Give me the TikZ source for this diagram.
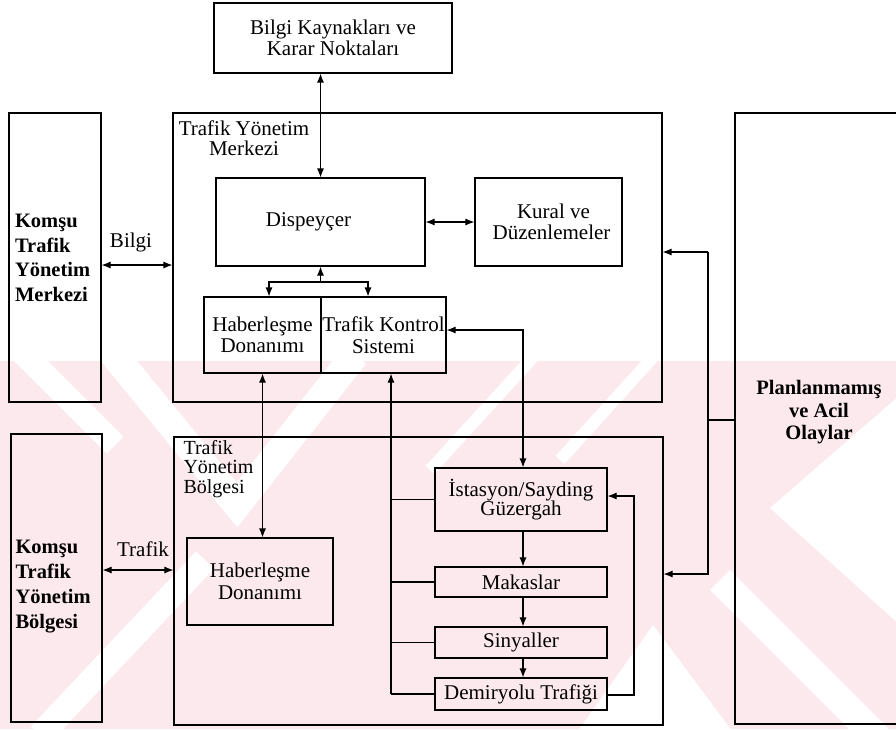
\documentclass[tikz,border=0pt]{standalone}
\usepackage{fontspec}
\setmainfont{Liberation Serif}
\usetikzlibrary{arrows.meta,calc}
\definecolor{wmpink}{RGB}{252,233,238}
\begin{document}
\begin{tikzpicture}[x=1pt,y=1pt,
  line width=1.1pt,
  txt/.style={font=\fontsize{21}{21.5}\selectfont},
  box/.style={draw, inner sep=0pt, align=center, txt},
  lbl/.style={inner sep=0pt, align=center, txt},
  tip/.style={-{Latex[length=9pt,width=7pt]}},
  dbl/.style={{Latex[length=9pt,width=7pt]}-{Latex[length=9pt,width=7pt]}}]
\useasboundingbox (0,0) rectangle (896,-729);

% faint background emblem in the lower half
\begin{scope}
  \clip (0,-361) rectangle (896,-729);
  \fill[wmpink] (0,-361) rectangle (896,-729);
  \draw[white, line width=28pt] (110,-350) -- (237,-505) -- (355,-355);
  \draw[white, line width=24pt] (15,-345) -- (115,-445);
  \draw[white, line width=25pt] (40,-735) -- (205,-560);
  \draw[white, line width=12pt] (430,-470) -- (535,-355);
  \draw[white, line width=12pt] (560,-460) -- (655,-355);
  \fill[white] (653,-625) -- (735,-735) -- (575,-735) -- cycle;
  \fill[white] (770,-508) -- (900,-395) -- (900,-625) -- cycle;
  \draw[white, line width=28pt] (720,-580) -- (880,-740);
\end{scope}

% outer containers
\node[draw, minimum width=489pt, minimum height=289pt, inner sep=0pt] (tym) at (417.5,-257.5) {};
\node[lbl] (tymT) at (244,-138) {Trafik Yönetim\\[-1.5pt]Merkezi};
\node[draw, minimum width=489pt, minimum height=288pt, inner sep=0pt] (tyb) at (418.5,-581) {};
\node[lbl, align=left, font=\fontsize{20}{19.5}\selectfont, anchor=west] (tybT) at (183,-469) {Trafik\\Yönetim\\Bölgesi};

% neighbouring centres and regions
\node[draw, minimum width=92pt, minimum height=289pt, inner sep=0pt] (komsuM) at (55,-257.5) {};
\node[lbl, align=left, anchor=west, font=\bfseries\fontsize{20.5}{24.7}\selectfont] (komsuMT) at (14.5,-258) {Komşu\\Trafik\\Yönetim\\Merkezi};
\node[draw, minimum width=91pt, minimum height=288pt, inner sep=0pt] (komsuB) at (56.5,-578) {};
\node[lbl, align=left, anchor=west, font=\bfseries\fontsize{20.5}{25}\selectfont] (komsuBT) at (15,-587) {Komşu\\Trafik\\Yönetim\\Bölgesi};

% unplanned events (box runs off the right edge)
\node[draw, minimum width=175pt, minimum height=611pt, inner sep=0pt] (plan) at (822.5,-418.5) {};
\node[lbl, font=\bfseries\fontsize{20.5}{22.5}\selectfont] (planT) at (819,-412.5) {Planlanmamış\\ve Acil\\Olaylar};

% inner boxes
\node[box, minimum width=238pt, minimum height=70pt] (bilgiK) at (333,-38) {Bilgi Kaynakları ve\\[-1pt]Karar Noktaları};
\node[box, minimum width=209pt, minimum height=88pt] (disp) at (320.5,-222) {Dispeyçer\hspace{24pt}};
\node[box, minimum width=147pt, minimum height=88pt] (kural) at (548.5,-222) {\hspace{10pt}Kural ve\\\hspace{6pt}Düzenlemeler};
\node[box, minimum width=117pt, minimum height=76pt] (haber1) at (262.5,-335) {Haberleşme\\Donanımı};
\node[box, minimum width=125pt, minimum height=76pt] (tks) at (383.5,-335) {Trafik Kontrol\\Sistemi};
\node[box, minimum width=146pt, minimum height=87pt] (haber2) at (260,-581.5) {Haberleşme\\Donanımı};
\node[box, minimum width=172pt, minimum height=63pt, font=\fontsize{21}{19.5}\selectfont] (ist) at (521,-499.5) {İstasyon/Sayding\\Güzergah};
\node[box, minimum width=172pt, minimum height=30pt] (mak) at (521,-582) {Makaslar};
\node[box, minimum width=172pt, minimum height=31pt] (sin) at (521,-642.5) {Sinyaller};
\node[box, minimum width=172pt, minimum height=32pt] (dem) at (521,-694) {Demiryolu Trafiği};

% edge labels
\node[lbl] (bilgiL) at (131,-242) {Bilgi};
\node[lbl] (trafikL) at (143,-549) {Trafik};

% connection points
\coordinate (bilgiY) at (0,-265);
\coordinate (trafikY) at (0,-570);
\coordinate (br) at (320.5,-282);
\coordinate (tkR) at (523,-330);
\coordinate (busX) at (391,0);
\coordinate (fbX) at (634,0);
\coordinate (planX) at (708,0);

% top-level links
\draw[dbl] (disp.north) -- (disp.north |- bilgiK.south);
\draw[dbl] (komsuM.east |- bilgiY) -- (tym.west |- bilgiY);
\draw[dbl] (komsuB.east |- trafikY) -- (tyb.west |- trafikY);
\draw[dbl] (disp.east) -- (kural.west);

% dispatcher branch
\draw[tip] (br) -- (disp.south);
\draw[tip] (br) -| ([xshift=6.5pt]haber1.north);
\draw[tip] (br) -| ([xshift=-15.5pt]tks.north);

% communication equipment link
\draw[dbl] (haber1.south) -- (haber1.south |- haber2.north);

% traffic control to station
\draw[dbl] (tks.east |- tkR) -- (tkR) -- (tkR |- ist.north);

% chain of field elements
\draw[tip] ([xshift=2pt]ist.south) -- ([xshift=2pt]mak.north);
\draw[tip] ([xshift=2pt]mak.south) -- ([xshift=2pt]sin.north);
\draw[tip] ([xshift=2pt]sin.south) -- ([xshift=2pt]dem.north);
\draw[tip] ([yshift=-1pt]dem.east) -| ([yshift=3.5pt]fbX |- ist.east) -- ([yshift=3.5pt]ist.east);

% feedback bus to traffic control
\draw[tip] (dem.west -| busX) -- (tks.south -| busX);
\draw (ist.west) -- (ist.west -| busX);
\draw (mak.west) -- (mak.west -| busX);
\draw (sin.west) -- (sin.west -| busX);
\draw (dem.west) -- (dem.west -| busX);

% unplanned events feed both levels
\draw ([yshift=-1.5pt]plan.west) -- ([yshift=-1.5pt]plan.west -| planX);
\draw[tip] (planX |- 0,-252) -- (planX |- 0,-574) -- (tyb.east |- 0,-574);
\draw[tip] (planX |- 0,-252) -- (tym.east |- 0,-252);
\end{tikzpicture}
\end{document}
